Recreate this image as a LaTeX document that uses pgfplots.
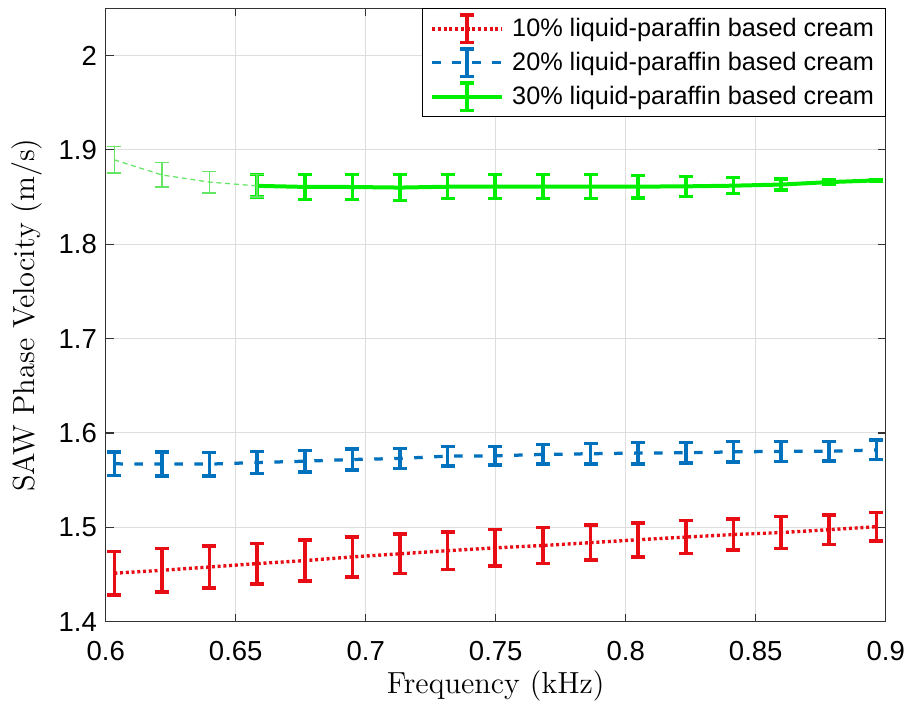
\documentclass[border=0pt]{standalone}
\usepackage{fontspec}
\usepackage{pgfplots}
\pgfplotsset{compat=1.18}
\newfontfamily\hv{Liberation Sans}

\definecolor{cred}{RGB}{232,12,20}
\definecolor{cblue}{RGB}{0,114,189}
\definecolor{cgreen}{RGB}{0,238,0}
\definecolor{cgreenlt}{RGB}{100,230,100}

% frequency (kHz), velocity (m/s), error
\pgfplotstableread{
x y e
0.6033 1.4514 0.0230
0.6216 1.4545 0.0230
0.6399 1.4580 0.0220
0.6582 1.4616 0.0213
0.6766 1.4648 0.0216
0.6949 1.4687 0.0213
0.7132 1.4720 0.0210
0.7315 1.4753 0.0200
0.7498 1.4783 0.0195
0.7682 1.4808 0.0192
0.7865 1.4838 0.0187
0.8048 1.4869 0.0180
0.8231 1.4897 0.0174
0.8414 1.4924 0.0165
0.8598 1.4945 0.0169
0.8781 1.4975 0.0156
0.8964 1.5007 0.0149
}\tenpct

\pgfplotstableread{
x y e
0.6033 1.5673 0.0124
0.6216 1.5670 0.0126
0.6399 1.5670 0.0124
0.6582 1.5687 0.0115
0.6766 1.5701 0.0112
0.6949 1.5719 0.0110
0.7132 1.5730 0.0106
0.7315 1.5755 0.0103
0.7498 1.5758 0.0099
0.7682 1.5773 0.0103
0.7865 1.5780 0.0107
0.8048 1.5787 0.0114
0.8231 1.5790 0.0110
0.8414 1.5800 0.0110
0.8598 1.5805 0.0107
0.8781 1.5806 0.0105
0.8964 1.5820 0.0103
}\twentypct

\pgfplotstableread{
x y e
0.6582 1.8618 0.0118
0.6766 1.8607 0.0132
0.6949 1.8606 0.0134
0.7132 1.8600 0.0139
0.7315 1.8609 0.0127
0.7498 1.8610 0.0127
0.7682 1.8610 0.0127
0.7865 1.8610 0.0127
0.8048 1.8610 0.0120
0.8231 1.8613 0.0106
0.8414 1.8620 0.0085
0.8598 1.8632 0.0060
0.8781 1.8658 0.0025
0.8964 1.8676 0.0008
}\thirtypct

\pgfplotstableread{
x y e
0.6033 1.8894 0.0140
0.6216 1.8734 0.0129
0.6399 1.8658 0.0116
0.6582 1.8618 0.0118
}\thirtylow

\begin{document}
\begin{tikzpicture}
\begin{axis}[
    scale only axis,
    width=312pt, height=245.4pt,
    xmin=0.6, xmax=0.9, ymin=1.4, ymax=2.05,
    xtick={0.6,0.65,0.7,0.75,0.8,0.85,0.9},
    ytick={1.4,1.5,1.6,1.7,1.8,1.9,2},
    grid=major,
    major grid style={draw=black!13, line width=0.4pt},
    axis line style={draw=black!80, line width=0.5pt},
    tick align=inside, tick pos=both, major tick length=3.2pt,
    tick style={draw=black!80, line width=0.5pt},
    /pgf/number format/assume math mode=true,
    tick label style={font=\hv\fontsize{11}{13}\selectfont},
    xticklabel style={yshift=-4.3pt},
    xlabel={Frequency (kHz)},
    ylabel={SAW Phase Velocity (m/s)},
    label style={font=\fontsize{12.2}{14}\selectfont},
    xlabel style={at={(axis description cs:0.5,0)}, anchor=base, yshift=-28.6pt},
    ylabel style={at={(axis description cs:0,0.5)}, anchor=base, yshift=28.3pt},
    legend cell align=left,
    legend style={at={(1,1)}, anchor=north east, draw=black, line width=0.5pt,
        fill=white, font=\hv\fontsize{10.1}{12}\selectfont,
        inner xsep=3pt, inner ysep=1.2pt, row sep=0pt, column sep=1.7pt,
        nodes={inner sep=1.5pt, text height=8.4pt, text depth=2.2pt}},
    legend image code/.code={
        \draw[#1] (0pt,0pt) -- (28pt,0pt);
        \draw[#1, solid, line width=1.4pt] (14pt,-5.5pt) -- (14pt,5.5pt)
            (11.2pt,-5.5pt) -- (16.8pt,-5.5pt) (11.2pt,5.5pt) -- (16.8pt,5.5pt);
    },
]
\addplot[cred, line width=1.35pt, dash pattern=on 1.2pt off 1.1pt,
    error bars/.cd, y dir=both, y explicit,
    error bar style={line width=1.45pt, solid},
    error mark options={rotate=90, mark size=2.8pt, line width=1.45pt, solid}]
    table[x=x, y=y, y error=e] {\tenpct};
\addlegendentry{10\% liquid-paraffin based cream}

\addplot[cblue, line width=1.3pt, dash pattern=on 3.4pt off 4.6pt,
    error bars/.cd, y dir=both, y explicit,
    error bar style={line width=1.4pt, solid},
    error mark options={rotate=90, mark size=2.8pt, line width=1.4pt, solid}]
    table[x=x, y=y, y error=e] {\twentypct};
\addlegendentry{20\% liquid-paraffin based cream}

\addplot[cgreen, line width=1.6pt,
    error bars/.cd, y dir=both, y explicit,
    error bar style={line width=1.4pt, solid},
    error mark options={rotate=90, mark size=2.8pt, line width=1.4pt, solid}]
    table[x=x, y=y, y error=e] {\thirtypct};
\addlegendentry{30\% liquid-paraffin based cream}

\addplot[cgreenlt, line width=0.5pt, dash pattern=on 2pt off 1.5pt, forget plot,
    error bars/.cd, y dir=both, y explicit,
    error bar style={line width=0.5pt, solid},
    error mark options={rotate=90, mark size=2.8pt, line width=0.5pt, solid}]
    table[x=x, y=y, y error=e] {\thirtylow};
\end{axis}
\pgfresetboundingbox
\path ([xshift=-42.3pt,yshift=-34.1pt]current axis.south west)
    rectangle ([xshift=9.3pt,yshift=3.3pt]current axis.north east);
\end{tikzpicture}
\end{document}
